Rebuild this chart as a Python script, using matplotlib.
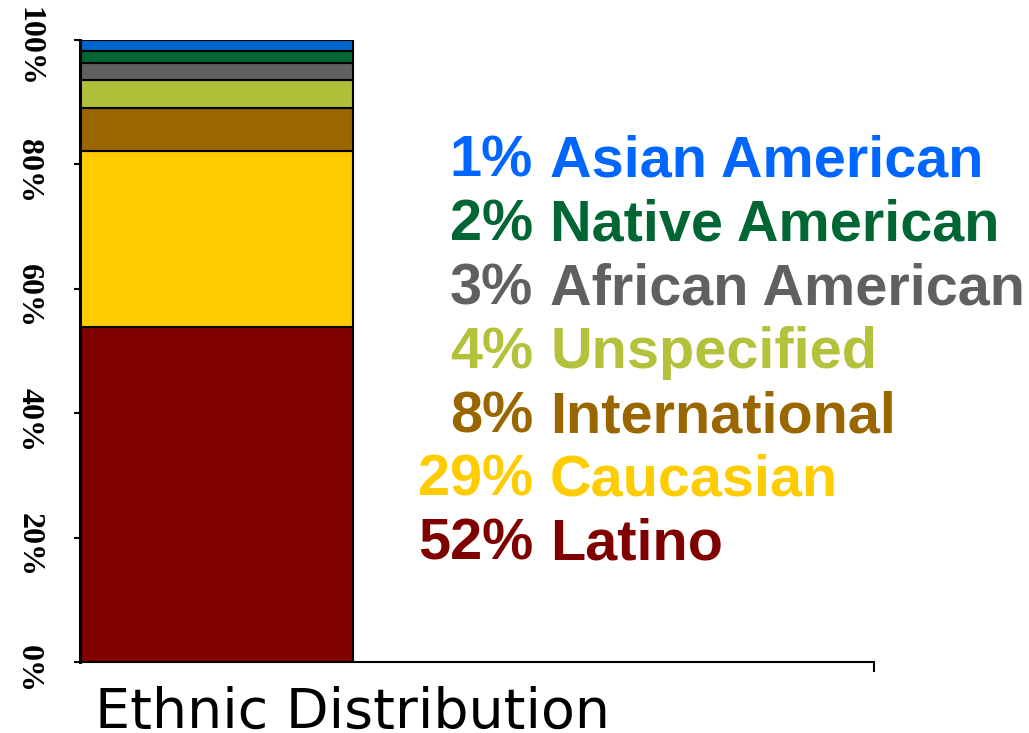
import matplotlib
matplotlib.use("Agg")
import matplotlib.pyplot as plt
import matplotlib.transforms as mtransforms

# stacked segments, bottom to top (share of total, %)
groups = ["Latino", "Caucasian", "International", "Unspecified",
          "African American", "Native American", "Asian American"]
shares = [53.9, 28.3, 6.9, 4.5, 2.7, 1.9, 1.8]
pct_labels = ["52%", "29%", "8%", "4%", "3%", "2%", "1%"]
bar_colors = ["#800000", "#FFCC00", "#996600", "#B0BF3A",
              "#606060", "#006633", "#0066CC"]
text_colors = ["#800000", "#FFCC00", "#996600", "#B3C13B",
               "#606060", "#006633", "#0066FF"]
yticks = [0, 20, 40, 60, 80, 100]
ytick_labels = ["0%", "20%", "40%", "60%", "80%", "100%"]

W, H = 1029, 733
fig = plt.figure(figsize=(W / 100, H / 100), dpi=100)
ax = fig.add_axes([80 / W, 71 / H, 794 / W, 622 / H])

bottom = 0
for val, col in zip(shares, bar_colors):
    ax.bar(0, val, width=0.344, bottom=bottom, align="edge",
           color=col, edgecolor="black", linewidth=1.5, zorder=2)
    bottom += val

ax.set_xlim(0, 1)
ax.set_ylim(0, 100)

for s in ["top", "right"]:
    ax.spines[s].set_visible(False)
ax.spines["left"].set_linewidth(2.2)
ax.spines["bottom"].set_linewidth(1.5)

ax.set_yticks(yticks)
ax.set_yticklabels(ytick_labels, rotation=-90, va="center",
                   fontfamily="Liberation Serif", fontweight="bold",
                   fontsize=23)
ax.tick_params(axis="y", direction="out", length=4.5, width=1.5, pad=22)
shift = mtransforms.ScaledTranslation(0, -7 / 100, fig.dpi_scale_trans)
for lbl in ax.get_yticklabels():
    lbl.set_transform(lbl.get_transform() + shift)

ax.set_xticks([1])
ax.set_xticklabels([""])
ax.tick_params(axis="x", direction="out", length=7, width=1.5)

# coloured legend text on the right, top row is the last segment
base_y = 0.780
step = 0.1026
for i, (pct, name, col) in enumerate(zip(pct_labels[::-1], groups[::-1],
                                         text_colors[::-1])):
    y = base_y - i * step
    ax.text(0.5705, y, pct, transform=ax.transAxes, ha="right",
            va="baseline", color=col, fontsize=41.5, fontweight="bold",
            fontfamily="Liberation Sans")
    ax.text(0.592, y, name, transform=ax.transAxes, ha="left",
            va="baseline", color=col, fontsize=41.5, fontweight="bold",
            fontfamily="Liberation Sans")

fig.text(95 / W, 5 / H, "Ethnic Distribution", ha="left", va="baseline",
         fontsize=40, fontfamily="DejaVu Sans")

fig.savefig("out.png", dpi=100)
